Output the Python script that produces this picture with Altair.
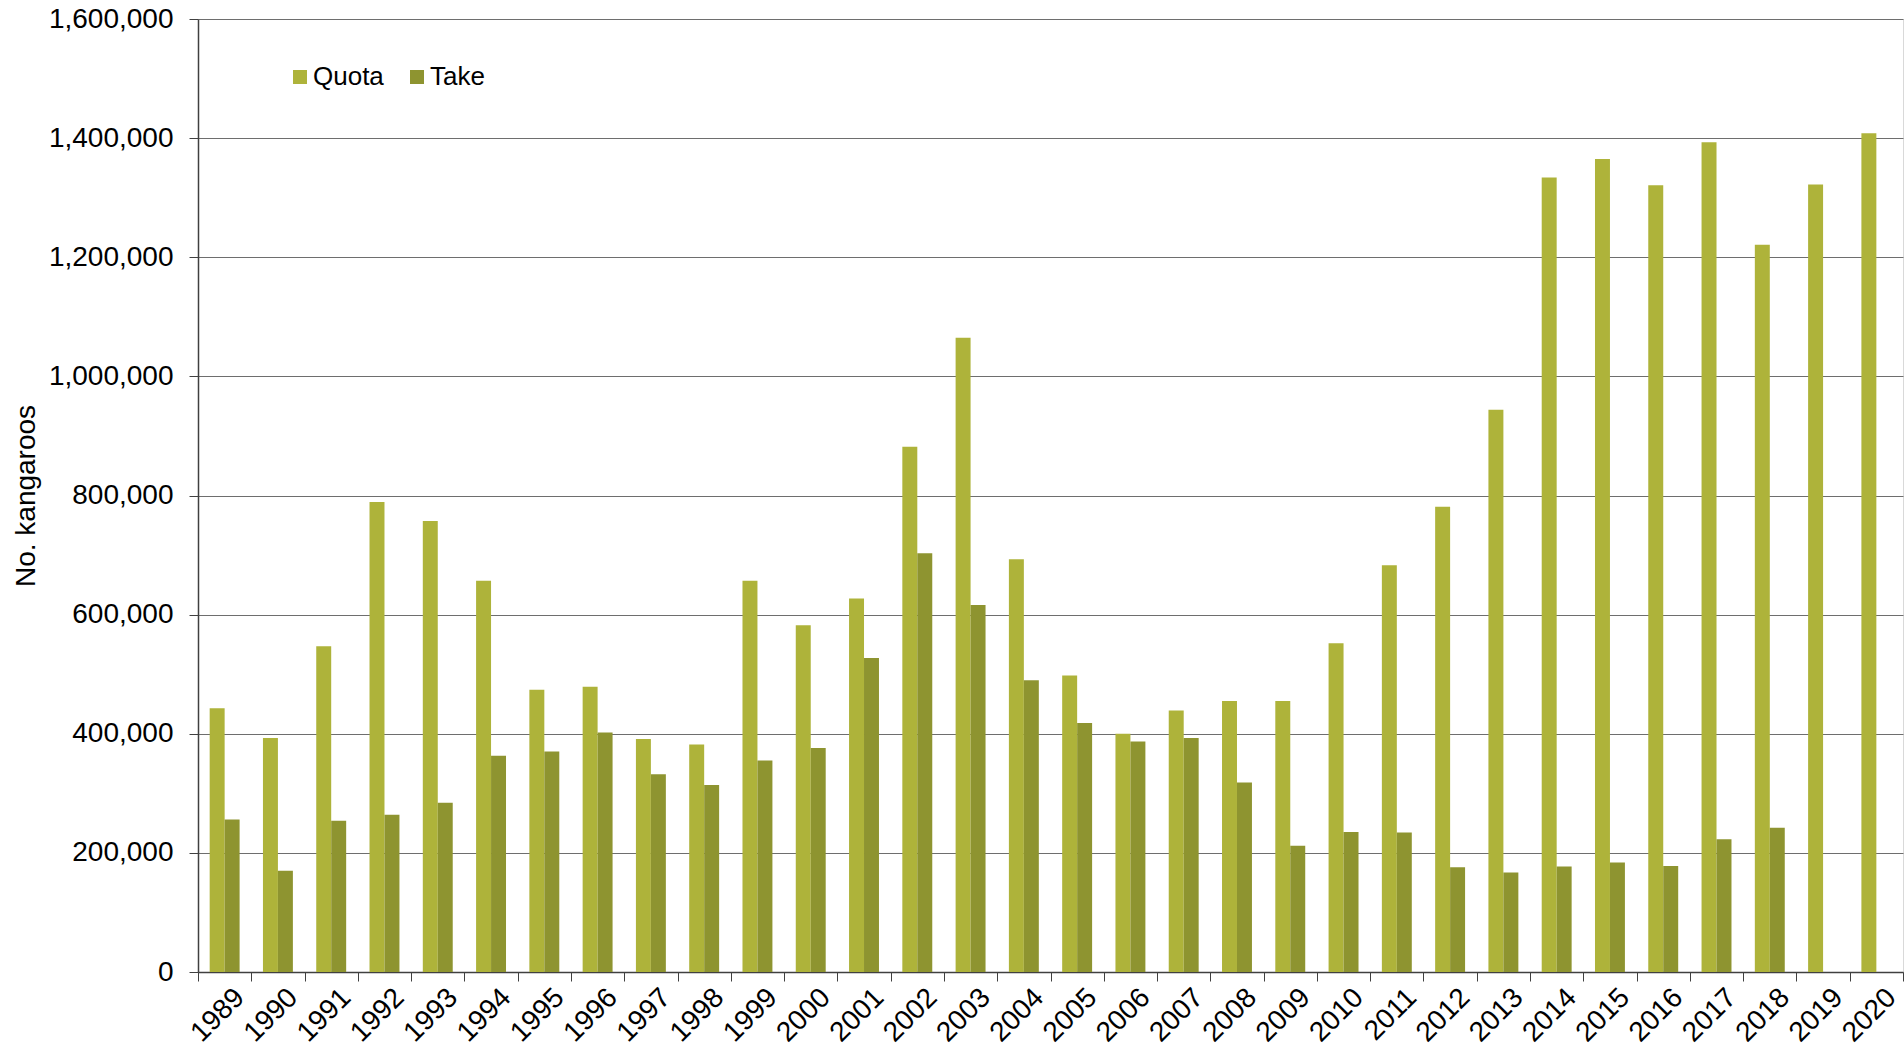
import altair as alt
import pandas as pd

years = [str(y) for y in range(1989, 2021)]
quota = [443000, 393000, 547000, 789000, 757000, 657000, 474000, 479000, 391000, 382000,
         657000, 582000, 627000, 882000, 1065000, 693000, 498000, 400000, 439000, 455000,
         455000, 552000, 683000, 781000, 944000, 1334000, 1365000, 1321000, 1393000, 1221000,
         1322000, 1408000]
take = [256000, 170000, 254000, 264000, 284000, 363000, 370000, 402000, 332000, 314000,
        355000, 376000, 527000, 703000, 616000, 490000, 418000, 387000, 393000, 318000,
        212000, 235000, 234000, 176000, 167000, 177000, 184000, 178000, 223000, 242000]
series = ["Quota", "Take"]
colors = ["#AEB33A", "#8E9430"]
y_ticks = [0, 200000, 400000, 600000, 800000, 1000000, 1200000, 1400000, 1600000]

rows = []
for i, yr in enumerate(years):
    rows.append({"Year": yr, "Series": "Quota", "Value": quota[i]})
    if i < len(take):
        rows.append({"Year": yr, "Series": "Take", "Value": take[i]})
df = pd.DataFrame(rows)

FONT = "Liberation Sans"

chart = alt.Chart(df).mark_bar().encode(
    x=alt.X("Year:N", sort=years,
            scale=alt.Scale(paddingInner=0, paddingOuter=0),
            axis=alt.Axis(title=None, labelAngle=-45, tickBand="extent",
                          labelFont=FONT, labelFontSize=28, labelColor="#000000",
                          labelPadding=12, labelOffset=15, tickSize=9, tickColor="#404040",
                          domainColor="#404040", domainWidth=1.5, labelAlign="right",
                          labelBaseline="middle", grid=False)),
    xOffset=alt.XOffset("Series:N", sort=series,
                        scale=alt.Scale(domain=series, paddingInner=0, paddingOuter=0.78)),
    y=alt.Y("Value:Q",
            scale=alt.Scale(domain=[0, 1600000], nice=False),
            axis=alt.Axis(values=y_ticks, format=",.0f", title="No. kangaroos",
                          titleFont=FONT, titleFontSize=28, titleFontWeight="normal",
                          titleColor="#000000", titleX=-164, titleY=476.5,
                          titleAngle=270, titleAlign="center", titleBaseline="alphabetic",
                          labelFont=FONT, labelFontSize=28, labelColor="#000000",
                          labelPadding=16, tickSize=9, tickColor="#404040",
                          domainColor="#404040", domainWidth=1.5,
                          grid=True, gridColor="#6e6e6e", gridWidth=1)),
    color=alt.Color("Series:N",
                    scale=alt.Scale(domain=series, range=colors),
                    legend=alt.Legend(title=None, orient="none", legendX=89, legendY=45,
                                      direction="horizontal", symbolType="square",
                                      symbolSize=196, symbolStrokeWidth=0,
                                      labelFont=FONT, labelFontSize=26, labelColor="#000000",
                                      labelOffset=0, columnPadding=20, padding=0)),
).properties(
    width=1705,
    height=953,
    autosize=alt.AutoSizeParams(type="none"),
    padding={"left": 198, "top": 19, "right": 1, "bottom": 83},
).configure_view(stroke="#d9d9d9")

chart.save("out.html", embed_options={"renderer": "svg", "actions": False})
